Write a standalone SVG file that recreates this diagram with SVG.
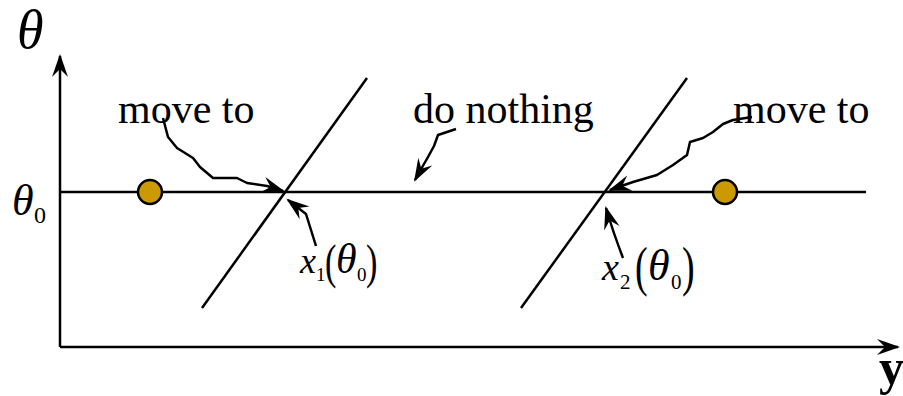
<svg xmlns="http://www.w3.org/2000/svg" width="903" height="396" viewBox="0 0 903 396">
<style>
.ln{fill:none;stroke:#000;stroke-width:2.5;stroke-linejoin:round}
.cn{fill:none;stroke:#000;stroke-width:2.5;stroke-linejoin:round;marker-end:url(#ah)}
.t{font-family:"Liberation Serif","Times New Roman",serif;fill:#000}
.i{font-style:italic}
.dot{fill:#CC9900;stroke:#000;stroke-width:2.5}
</style>
<defs>
<marker id="ah" markerUnits="userSpaceOnUse" viewBox="-24 -10 28 20" markerWidth="28" markerHeight="20" refX="0" refY="0" orient="auto">
<path d="M2,0 L-21,-8 L-13,0 L-21,8 Z" fill="#000"/>
</marker>
</defs>
<g id="axes">
<path class="ln" d="M60,347 L60,56" marker-end="url(#ah)"/>
<path class="ln" d="M60,347 L898,347" marker-end="url(#ah)"/>
<text class="t i" x="17" y="48" font-size="54">θ</text>
<text class="t" x="879" y="384" font-size="50" font-weight="bold">y</text>
<text class="t i" x="12" y="215" font-size="44">θ</text>
<text class="t" x="34" y="223" font-size="24">0</text>
</g>
<g id="theta0-line"><path class="ln" d="M60,192 L866,192"/></g>
<g id="line1"><path class="ln" d="M202,308 L367,78"/></g>
<g id="line2"><path class="ln" d="M521,308 L687,78"/></g>
<g id="dot1"><circle class="dot" cx="150" cy="192" r="12"/></g>
<g id="dot2"><circle class="dot" cx="725" cy="192" r="12"/></g>
<g id="label-move-left"><text class="t" x="118" y="123" font-size="42">move to</text></g>
<g id="label-do-nothing"><text class="t" x="413" y="123" font-size="42">do nothing</text></g>
<g id="label-move-right"><text class="t" x="733" y="123" font-size="42">move to</text></g>
<g id="label-x1">
<text class="t i" x="300" y="273" font-size="36">x</text>
<text class="t" x="316" y="281" font-size="19">1</text>
<text class="t" transform="translate(325,278) scale(0.9,1.3)" font-size="38">(</text>
<text class="t i" x="336" y="273" font-size="42">θ</text>
<text class="t" x="357" y="281" font-size="19">0</text>
<text class="t" transform="translate(366,278) scale(0.9,1.3)" font-size="38">)</text>
</g>
<g id="label-x2">
<text class="t i" x="602" y="280" font-size="38">x</text>
<text class="t" x="620" y="289" font-size="21">2</text>
<text class="t" transform="translate(635,285) scale(0.95,1.35)" font-size="40">(</text>
<text class="t i" x="648" y="280" font-size="44">θ</text>
<text class="t" x="671" y="289" font-size="21">0</text>
<text class="t" transform="translate(682,285) scale(0.95,1.35)" font-size="40">)</text>
</g>
<g id="connectors">
<path class="cn" d="M163,118 L168,137 L177,148 L193,158 L200,167 L213,178 L237,178 L247,183 L267,186 L283,191"/>
<path class="cn" d="M456,129 L438,135 L434,146 L428,157 L424,164 L415,180"/>
<path class="cn" d="M752,117 L733,120 L723,124 L713,132 L703,138 L690,142 L687,155 L673,165 L657,175 L633,182 L610,190"/>
<path class="cn" d="M316,246 L306,214 L288,200"/>
<path class="cn" d="M623,258 Q613,232 606,208"/>
</g>
</svg>
